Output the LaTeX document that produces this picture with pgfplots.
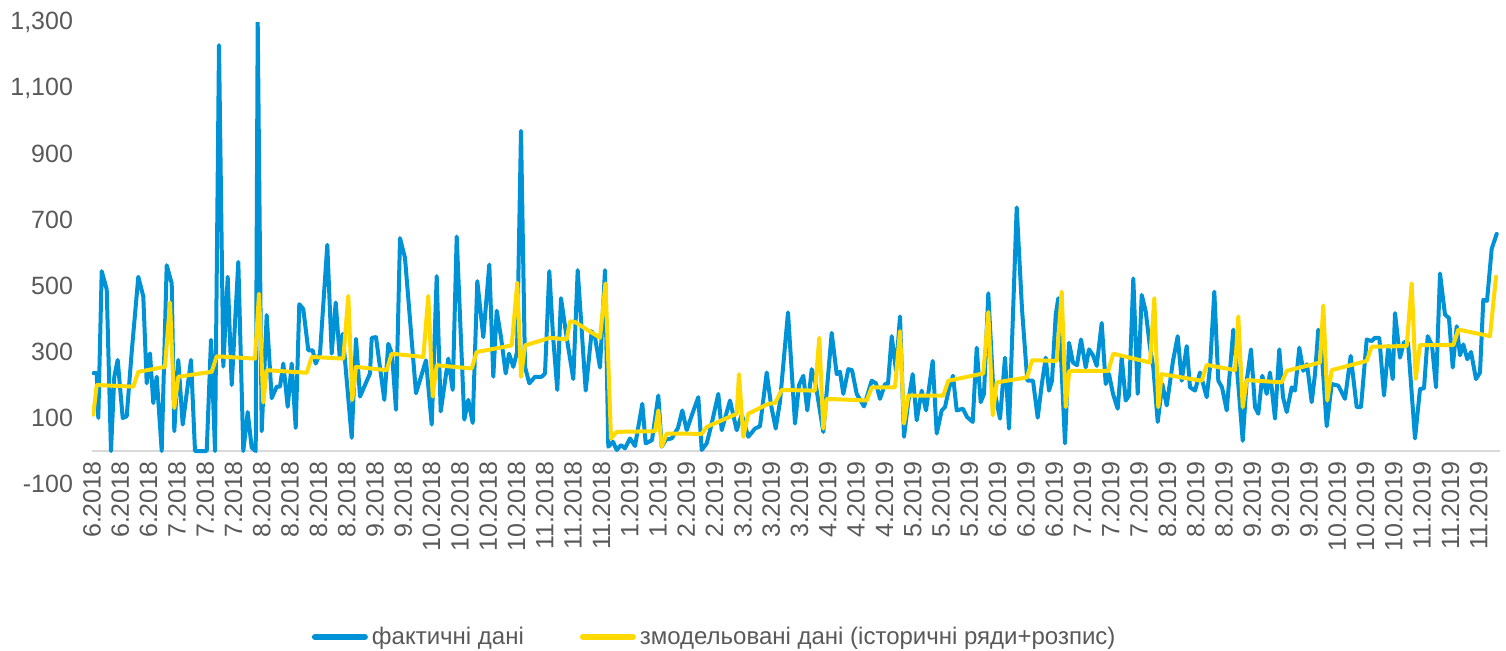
\documentclass[border=0pt]{standalone}
\usepackage{fontspec}
\setmainfont{Liberation Sans}
\usepackage{pgfplots}
\pgfplotsset{compat=1.18}
\usepackage{pgfplotstable}
\definecolor{fblue}{RGB}{0,146,214}
\definecolor{fyellow}{RGB}{255,217,0}
\definecolor{tgray}{RGB}{89,89,89}
\definecolor{agray}{RGB}{217,217,217}

\pgfplotstableread{
x y
93.3 236
96.7 236
98.3 100
101.7 545
106.7 490
111 0
114.3 225
117.7 276
122.7 100
126.7 105
131.7 300
138.3 528
143.3 468
146.7 205
150 296
153.3 145
156.7 225
161.7 0
166.7 563
171.7 508
174.3 60
178.3 276
182.7 80
191 276
195 0
206.7 0
211 337
215 0
219 1230
223.3 256
227.7 528
231.7 200
238.3 573
243.3 0
247.7 118
251.7 10
255.7 0
257.7 1300
261.7 60
266.7 412
271.7 160
276.7 195
280 195
283.3 265
287.7 134
291.7 265
295.7 70
299.3 445
303.3 430
308.3 305
312.7 305
315.7 265
320 295
327.3 625
331.7 295
335.7 450
339.7 285
342.7 355
351.7 40
356 340
360 165
370 235
371.7 343
376 345
384.3 155
388.3 325
392 295
396 125
400 645
405 585
416 175
426 275
431.7 80
436.7 530
440.7 120
448.3 280
452.7 185
456.7 650
464.3 95
468.3 155
472.7 85
477.3 515
483.3 345
489.3 565
493.3 225
496.7 425
501 345
505.7 235
509 295
513.3 255
517 300
521 970
525 255
529.3 205
535 225
541.7 225
545 235
549.3 545
553 350
557.3 185
561 463
566.7 343
573.3 218
577.7 548
585.7 183
591.7 363
595 345
600 253
605 548
608.3 13
613 28
616.7 3
621 18
625 8
630 38
635 15
642.3 143
645.7 23
652 33
658.3 168
661.7 13
666 35
671.7 38
678 70
682.3 123
686.7 63
692 110
698.3 163
701.7 3
706.7 23
711.7 83
718.3 173
721.7 63
726 110
730 153
736.7 63
741.7 110
748.3 43
755 68
760 75
766.7 238
771 140
775.7 68
780 150
788 420
795 83
799 200
803.3 228
807.3 123
811.7 248
815.5 205
823.3 58
831.7 358
836.7 233
840 240
843.3 173
848.3 248
852 245
856.7 173
864 135
871.7 213
876 205
880 158
885 203
888 203
891.7 348
896 243
900 408
904 43
908.3 150
912.7 233
916.7 93
921.7 183
926 123
932.7 273
936.7 53
941.7 123
945 133
949.3 193
953 228
956.7 123
963 128
967 103
972.7 88
976.7 313
980.7 148
984 173
988.3 478
993 203
1000 98
1005 283
1009 68
1016.7 738
1022 430
1027.3 213
1033 213
1037.7 101
1041.7 200
1045.7 283
1049 183
1052 213
1055.7 413
1058.3 463
1065 23
1069 328
1073 268
1077 260
1081 338
1085.7 253
1089 308
1093 290
1096.7 258
1101.7 388
1105.7 203
1109 233
1113 173
1117.7 128
1121.7 283
1125.7 153
1129 168
1133.3 523
1137.7 173
1141.7 473
1145.7 423
1150 313
1153.3 253
1157.7 88
1162.3 203
1166.7 138
1173 273
1177.7 348
1181.7 213
1186.7 318
1190 193
1195 183
1200 238
1206.7 163
1210 253
1214.3 483
1218.3 213
1222 193
1226.7 123
1233.3 368
1238 213
1242.7 31
1246.7 213
1251 308
1255 133
1258.3 113
1262.3 228
1266.7 173
1270 238
1275 98
1279.3 308
1283 163
1286.7 118
1291.7 193
1295 183
1299.3 313
1303.3 243
1307 263
1311.7 148
1315 233
1318.3 368
1322 283
1326.7 75
1331.7 203
1338.3 198
1345 158
1350.7 288
1356.7 133
1361 133
1366.7 338
1371.7 333
1375 343
1379.3 343
1384 168
1388.3 318
1392.7 218
1395 418
1400 283
1404 330
1408 328
1415 38
1420 188
1424 190
1427.7 348
1432 320
1436 193
1440 538
1445 413
1449 403
1452.7 253
1456.7 378
1460 290
1463.3 323
1467.3 278
1471 300
1476 218
1480 238
1483.3 458
1487 455
1491.7 613
1496.7 658
}\actual

\pgfplotstableread{
x y
93.3 110
96.7 200
133.3 195
138.3 240
165 255
170 450
174.3 130
178.3 225
211.7 240
216.7 287
255 280
259 477
263.3 147
266.7 245
306.7 237
311.7 285
343.3 280
348.3 470
352.3 155
356 255
386.7 245
391.7 295
423.3 285
428.3 470
432.7 165
436.7 260
471.7 250
476.7 300
511.7 320
517.3 510
521 225
525 320
550 343
566.7 338
570 393
575 391
600 343
605.5 508
611 38
616.7 58
655 60
658.3 123
661.7 13
666.7 53
701.7 52
706.7 73
736.7 113
739 233
743.3 43
748.3 113
768.3 143
775 145
781.7 185
815 183
819.3 343
823.3 68
826.7 158
866.7 153
871.7 193
895 193
900 363
904 83
908.3 168
943.3 168
948.3 213
983.3 235
988.3 421
992.7 108
996.7 208
1027 223
1032 275
1056.7 273
1061.7 483
1065.7 133
1069.3 243
1108.3 243
1113.3 295
1150 268
1154.3 463
1158.3 133
1161.7 233
1201.7 213
1206.7 261
1235 245
1238.3 408
1242.7 133
1246.7 215
1281.7 208
1286.7 243
1320 268
1323.3 441
1327.3 153
1331.7 245
1366.7 273
1371.7 316
1406.7 318
1411.7 508
1415.7 218
1420 321
1453.3 321
1458.3 368
1490 348
1496 528
}\model

\begin{document}
\begin{tikzpicture}
\path[use as bounding box] (0,0) rectangle (753pt,325pt);
\begin{axis}[
  at={(46pt,83pt)}, anchor=south west,
  scale only axis, width=704pt, height=231pt,
  xmin=92, xmax=1500, ymin=-100, ymax=1300,
  axis x line*=middle, axis y line*=left,
  hide obscured x ticks=false, hide obscured y ticks=false,
  x axis line style={draw=agray, line width=1pt, -},
  y axis line style={draw=none},
  major tick length=0pt,
  ytick={-100,100,...,1300},
  yticklabels={-100,100,300,500,700,900,{1,100},{1,300}},
  xtick={92,120.3,...,1479},
  xticklabels={6.2018,6.2018,6.2018,7.2018,7.2018,7.2018,8.2018,8.2018,8.2018,8.2018,9.2018,9.2018,10.2018,10.2018,10.2018,10.2018,11.2018,11.2018,11.2018,1.2019,1.2019,2.2019,2.2019,3.2019,3.2019,3.2019,4.2019,4.2019,4.2019,5.2019,5.2019,5.2019,6.2019,6.2019,6.2019,7.2019,7.2019,7.2019,8.2019,8.2019,8.2019,9.2019,9.2019,9.2019,10.2019,10.2019,10.2019,11.2019,11.2019,11.2019},
  tick label style={font=\fontsize{12.5}{15}\selectfont, text=tgray},
  xticklabel style={yshift=-3pt, rotate=90, anchor=east, inner sep=2pt},
  yticklabel style={anchor=east, xshift=-6pt},
  legend style={at={(0.443,-0.331)}, anchor=center, draw=none, fill=none,
    font=\fontsize{12}{14}\selectfont, text=tgray, legend columns=2,
    /tikz/every even column/.append style={column sep=26pt}},
  legend image code/.code={\draw[#1, line width=3pt] (0pt,0pt) -- (25pt,0pt);},
]
\addplot[fblue, line width=2pt, line join=round, line cap=round] table {\actual};
\addlegendentry{фактичні дані}
\addplot[fyellow, line width=2pt, line join=round, line cap=round] table {\model};
\addlegendentry{змодельовані дані (історичні ряди+розпис)}
\end{axis}
\end{tikzpicture}
\end{document}
